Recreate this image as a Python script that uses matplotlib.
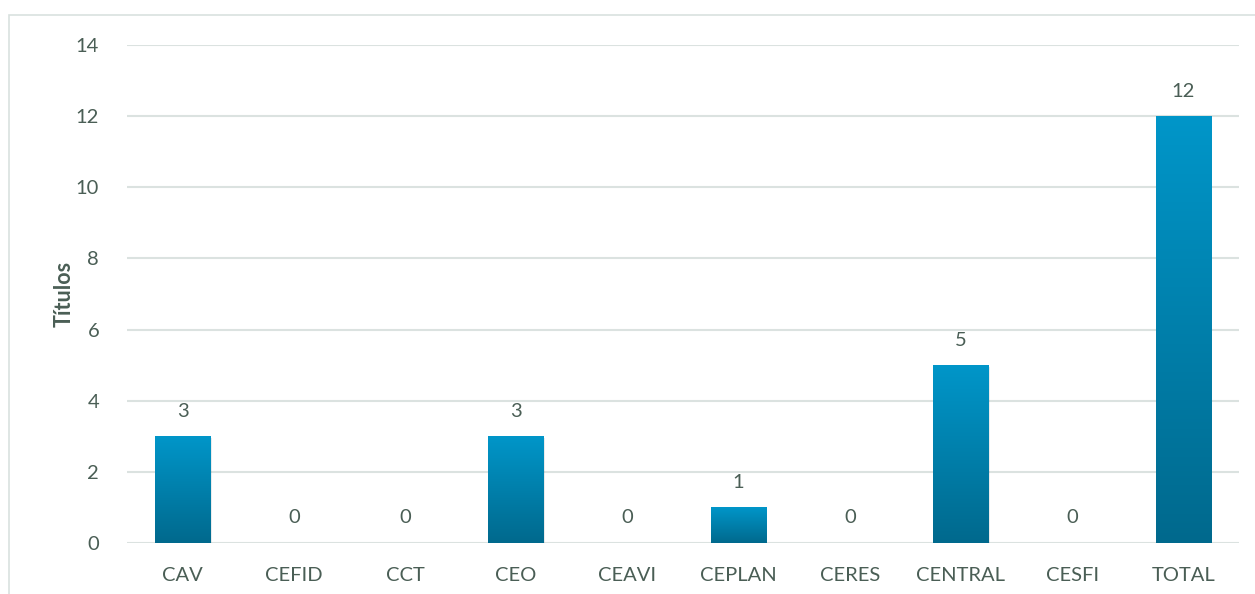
import matplotlib.pyplot as plt
import matplotlib.patches as mpatches
import numpy as np

categories = ['CAV', 'CEFID', 'CCT', 'CEO', 'CEAVI', 'CEPLAN', 'CERES', 'CENTRAL', 'CESFI', 'TOTAL']
values = [3, 0, 0, 3, 0, 1, 0, 5, 0, 12]

TEXT_COLOR = '#4a5e55'
GRID_COLOR = '#dbe2e0'
TOP_COLOR = '#0096c9'
BOTTOM_COLOR = '#00698d'

plt.rcParams['font.family'] = ['Lato', 'DejaVu Sans']

fig = plt.figure(figsize=(12.55, 5.94), dpi=100)
ax = fig.add_axes([0.1012, 0.0859, 0.886, 0.8384])

# frame around the chart area
fig.patches.append(mpatches.Rectangle((0.007, -0.01), 1.0, 0.985, transform=fig.transFigure,
                                      fill=False, edgecolor='#d9e1df', linewidth=1.2))

xs = np.arange(len(categories))
bars = ax.bar(xs, values, width=0.5, color='none', zorder=3)

grad = np.linspace(0, 1, 256).reshape(-1, 1)
cmap = plt.matplotlib.colors.LinearSegmentedColormap.from_list('g', [BOTTOM_COLOR, TOP_COLOR])
for b in bars:
    h = b.get_height()
    if h <= 0:
        continue
    x0 = b.get_x()
    w = b.get_width()
    # soft shadow
    ax.add_patch(mpatches.Rectangle((x0 + 0.01, -0.04), w, h, facecolor='#000000',
                                    alpha=0.08, edgecolor='none', zorder=2))
    ax.imshow(grad, extent=(x0, x0 + w, 0, h), origin='lower', cmap=cmap,
              aspect='auto', zorder=3)

for x, v in zip(xs, values):
    ax.annotate(str(v), (x, v), xytext=(0, 18), textcoords='offset points',
                ha='center', va='center', fontsize=14.5, color=TEXT_COLOR)

ax.set_xlim(-0.5, len(categories) - 0.5)
ax.set_ylim(0, 14)
ax.set_yticks(range(0, 15, 2))
ax.set_xticks(xs)
ax.set_xticklabels(categories)
ax.yaxis.grid(True, color=GRID_COLOR, linewidth=1.5, zorder=0)
ax.set_axisbelow(True)
for s in ax.spines.values():
    s.set_visible(False)
ax.tick_params(axis='both', length=0, labelsize=14.5, colors=TEXT_COLOR)
ax.tick_params(axis='x', pad=17)
ax.tick_params(axis='y', pad=20)
ax.set_ylabel('Títulos', fontsize=15.5, fontweight='bold', color=TEXT_COLOR, labelpad=1)

fig.savefig('out.png', dpi=100)
